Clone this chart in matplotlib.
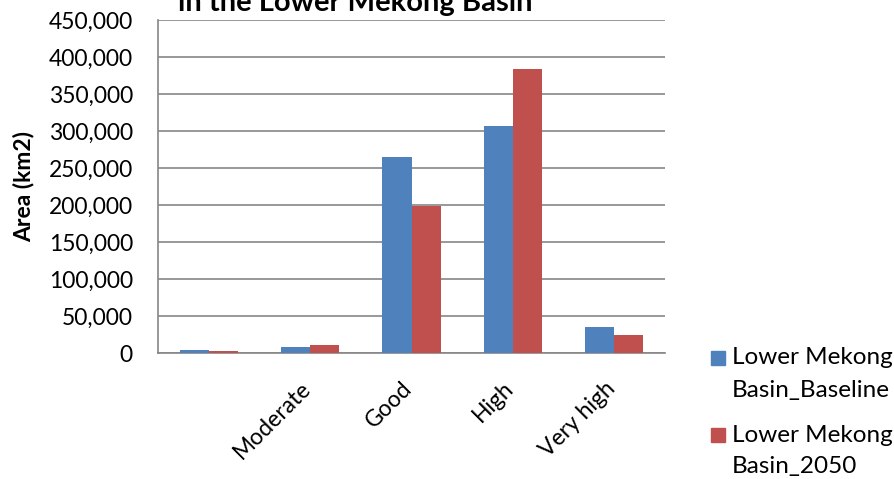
import matplotlib.pyplot as plt
import matplotlib.ticker as mticker
from matplotlib.patches import Rectangle
from matplotlib.transforms import ScaledTranslation
import numpy as np

plt.rcParams['font.family'] = ['Lato', 'DejaVu Sans']

categories = ['', 'Moderate', 'Good', 'High', 'Very high']
baseline = [4000, 8000, 265000, 307000, 35000]
y2050 = [3000, 11000, 198000, 384000, 24000]
series_names = ['Lower Mekong\nBasin_Baseline', 'Lower Mekong\nBasin_2050']
colors = ['#4f81bd', '#c0504d']

W, H = 895, 479
fig = plt.figure(figsize=(W/100, H/100), dpi=100)
ax = fig.add_axes([158/W, 1-353/H, (665-158)/W, (353-20)/H])

x = np.arange(len(categories))
w = 0.286
ax.bar(x - w/2, baseline, w, color=colors[0], zorder=3)
ax.bar(x + w/2, y2050, w, color=colors[1], zorder=3)

ax.set_xlim(-0.5, len(categories) - 0.5)
ax.set_ylim(0, 450000)
ax.set_yticks(np.arange(0, 450001, 50000))
ax.yaxis.set_major_formatter(mticker.FuncFormatter(lambda v, p: f'{int(v):,}'))
ax.grid(axis='y', color='#868686', linewidth=1.2, zorder=0)

ax.set_xticks(x)
ax.set_xticklabels(categories, rotation=45, ha='right', va='center', rotation_mode='anchor')
ax.tick_params(axis='x', length=0, pad=23, labelsize=16.5)
ax.tick_params(axis='y', length=0, labelsize=16.5, pad=18)
shift = ScaledTranslation(-2/72, 0, fig.dpi_scale_trans)
for lab in ax.get_xticklabels():
    lab.set_transform(lab.get_transform() + shift)

for s in ['top', 'right']:
    ax.spines[s].set_visible(False)
for s in ['left', 'bottom']:
    ax.spines[s].set_color('#868686')
    ax.spines[s].set_linewidth(1.2)

ax.set_ylabel('Area (km2)', fontsize=16.5, fontweight='bold')
ax.yaxis.set_label_coords((34-158)/507, 0.5)

fig.text(355/W, 1 - 11/H, 'in the Lower Mekong Basin', ha='center', va='baseline',
         fontsize=21, fontweight='bold')

# legend, square next to the first line of each entry
for i, (name, c) in enumerate(zip(series_names, colors)):
    top = 351 + i * 77
    fig.patches.append(Rectangle((711/W, 1 - (top + 14)/H), 14/W, 14/H,
                                 color=c, transform=fig.transFigure, figure=fig))
    for j, line in enumerate(name.split('\n')):
        fig.text(732/W, 1 - (top + 7 + j * 32)/H, line, ha='left', va='center',
                 fontsize=17.5)

fig.savefig('out.png', dpi=100)
